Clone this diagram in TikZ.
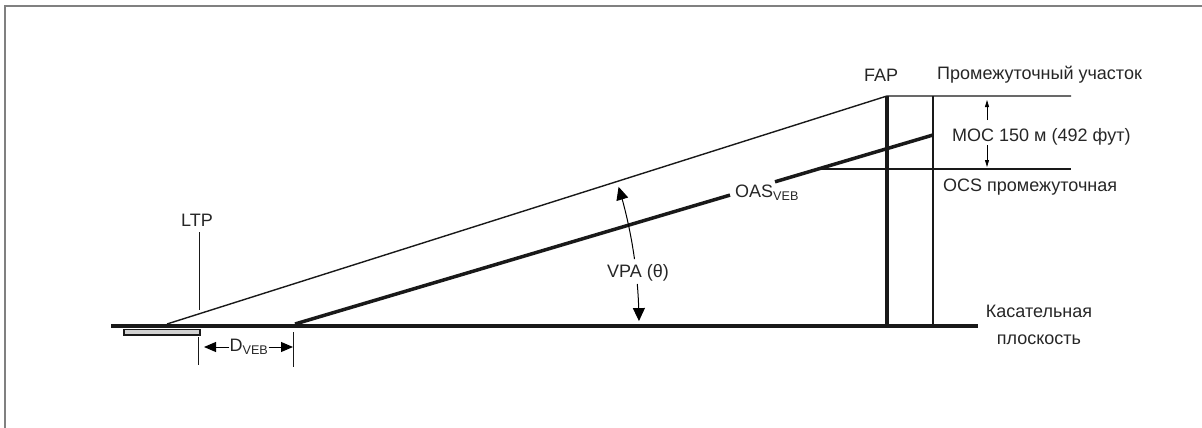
\documentclass[tikz,border=0pt]{standalone}
\usepackage{fontspec}
\setmainfont{Liberation Sans}
\usetikzlibrary{arrows.meta}
\begin{document}
\begin{tikzpicture}[x=1pt,y=-1pt,
  lbl/.style={inner sep=0pt, font=\fontsize{18}{27}\selectfont, text=black!85},
  thinln/.style={line width=1.4pt, black!90},
  thickln/.style={line width=4pt, black!90},
  bigtip/.style={-{Triangle[length=13pt,width=12pt]}, line width=1pt},
  dimtip/.style={-{Triangle[length=12pt,width=10pt]}, line width=1pt},
  smalltip/.style={-{Triangle[length=7pt,width=4pt]}, line width=0.8pt}]
\useasboundingbox (0,0) rectangle (1202,428);
% frame (top and left edges only)
\draw[line width=1.5pt, black!50] (5,428) -- (5,6) -- (1202,6);
% key points
\coordinate (g0) at (111,326);
\coordinate (g1) at (978,326);
\coordinate (thr) at (167,324);
\coordinate (fap) at (887,96);
\coordinate (fapb) at (887,326);
\coordinate (top) at (1071,96);
\coordinate (v2t) at (933,96);
\coordinate (v2b) at (933,326);
\coordinate (oas0) at (295,324);
\coordinate (oasA) at (730,195.1);
\coordinate (oasB) at (775,181.8);
\coordinate (oas1) at (933,135);
\coordinate (ocs0) at (822,169);
\coordinate (ocs1) at (1071,169);
% runway
\node[draw=black!90, line width=1.5pt, fill=black!18, minimum width=76pt, minimum height=5.5pt, inner sep=0pt, anchor=north west] (rwy) at (123,328.5) {};
% tangent plane
\draw[line width=4.5pt, black!90] (g0) -- (g1);
% approach lines
\draw[thinln] (thr) -- (fap) -- (top);
\draw[thickln] (fap) -- (fapb);
\draw[line width=1.5pt, black!90] (v2t) -- (v2b);
\draw[line width=3.5pt, black!90] (oas0) -- (oasA);
\draw[line width=3.5pt, black!90] (oasB) -- (oas1);
\draw[thinln] (ocs0) -- (ocs1);
% labels
\node[lbl] (ltp) at (197,220) {LTP};
\coordinate (ltpa) at (199,232);
\coordinate (ltpb) at (199,310);
\draw[line width=1pt, black!90] (ltpa) -- (ltpb);
\node[lbl] (fapl) at (881,75) {FAP};
\node[lbl, anchor=west] (inter) at (937,75) {Промежуточный участок};
\node[lbl, anchor=west] (moc) at (952,137) {MOC 150 м (492 фут)};
\node[lbl, anchor=west] (ocs) at (943,187) {OCS промежуточная};
\node[lbl, align=center] (tang) at (1039,325) {Касательная\\плоскость};
\node[lbl, anchor=west] (oasl) at (735,193) {OAS\textsubscript{VEB}};
\node[lbl] (vpa) at (638,273) {VPA (θ)};
% MOC arrows
\coordinate (m1) at (987,120);
\coordinate (m1t) at (987,100);
\coordinate (m2) at (987,145);
\coordinate (m2t) at (987,167);
\draw[smalltip] (m1) -- (m1t);
\draw[smalltip] (m2) -- (m2t);
% VPA arcs (centred on threshold)
\draw[bigtip, domain=7.9:16.9, samples=40, variable=\t] plot ({167+472*cos(\t)}, {324-472*sin(\t)});
\draw[bigtip, domain=4.86:0.36, samples=20, variable=\t] plot ({167+472*cos(\t)}, {324-472*sin(\t)});
% D_VEB dimension
\coordinate (d0a) at (198,337);
\coordinate (d0b) at (198,365);
\coordinate (d1a) at (293,332);
\coordinate (d1b) at (293,367);
\draw[line width=0.8pt, black!90] (d0a) -- (d0b);
\draw[line width=0.8pt, black!90] (d1a) -- (d1b);
\node[lbl] (dveb) at (249,347) {D\textsubscript{VEB}};
\draw[dimtip] (dveb.west) -- (204,347);
\draw[dimtip] (dveb.east) -- (d1a |- dveb.east);
\end{tikzpicture}
\end{document}
